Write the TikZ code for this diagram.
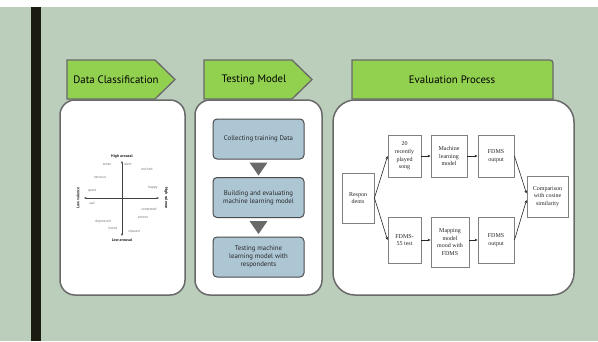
\documentclass[tikz,border=0pt]{standalone}
\usepackage{fontspec}
\setmainfont{PT Sans}
\newfontfamily\flowfont{Liberation Serif}
\usetikzlibrary{arrows.meta}
\definecolor{sage}{RGB}{187,206,187}
\definecolor{tabgreen}{RGB}{146,208,80}
\definecolor{edgegray}{RGB}{105,105,105}
\definecolor{stageblue}{RGB}{173,198,212}
\definecolor{bardark}{RGB}{27,27,18}
\tikzset{
  tabbox/.style={draw=edgegray, line width=1.3pt, fill=tabgreen},
  tablbl/.style={font=\fontsize{10.8}{12}\selectfont, text=black},
  panel/.style={draw=edgegray, line width=1.5pt, fill=white, rounded corners=15pt},
  stagebox/.style={draw=black!70, line width=1pt, fill=stageblue, rounded corners=4pt,
    minimum width=91pt, minimum height=40pt, align=center, inner sep=1pt,
    font=\fontsize{6.8}{8.2}\selectfont, text=black!85},
  flowbox/.style={draw=black!50, line width=0.9pt, fill=white, align=center, inner sep=1pt,
    font=\flowfont\fontsize{6}{7.6}\selectfont, text=black!85},
  flowarrow/.style={-{Stealth[length=3pt,width=2.6pt]}, line width=0.6pt, black!85},
  axisarrow/.style={{Stealth[length=2.5pt,width=2pt]}-{Stealth[length=2.5pt,width=2pt]}, line width=0.5pt, black!75},
  emo/.style={font=\fontsize{3.6}{4}\selectfont, text=black!55, inner sep=0pt},
  axislbl/.style={font=\bfseries\fontsize{4}{4.5}\selectfont, text=black!85, inner sep=0pt},
}
\begin{document}
\begin{tikzpicture}[x=1pt, y=-1pt]
    % Background
    \fill[white] (0,0) rectangle (598,341);
    \fill[sage] (0,7) rectangle (598,341);
    \fill[bardark] (31,7) rectangle (41,341);
    \useasboundingbox (0,0) rectangle (598,341);

    % Panels
    \draw[panel] (60,100) rectangle (185,295);
    \draw[panel] (195,100) rectangle (322,295);
    \draw[panel, rounded corners=22pt] (333,100) rectangle (574,295);

    % Tabs
    \draw[tabbox] (67,60) -- (155,60) -- (175,79.5) -- (155,99) -- (67,99) -- cycle;
    \node[tablbl] (tabdata) at (116,80) {Data Classification};
    \draw[tabbox] (204,60) -- (292,60) -- (312,79.5) -- (292,99) -- (204,99) -- cycle;
    \node[tablbl] (tabtest) at (254,80) {Testing Model};
    \draw[tabbox] (352,99) -- (352,60) -- (546,60) .. controls (553,60) .. (553,67) -- (553,99) -- cycle;
    \node[tablbl] (tabeval) at (452,80) {Evaluation Process};

    % Valence / arousal chart
    \coordinate (qtop) at (122,161);
    \coordinate (qbot) at (122,236);
    \coordinate (qleft) at (84,198);
    \coordinate (qright) at (159,198);
    \draw[axisarrow] (qbot) -- (qtop);
    \draw[axisarrow] (qleft) -- (qright);
    \node[axislbl] (hiarousal) at (122,156) {High arousal};
    \node[axislbl] (loarousal) at (122,240.5) {Low arousal};
    \node[axislbl, rotate=90] (lovalence) at (78,198) {Low valence};
    \node[axislbl, rotate=-90] (hivalence) at (166,198) {High valence};
    \foreach \ex/\ey/\word in {107/164/tense, 128/164/alert, 147/169/excited,
        100/178/nervous, 92/191/upset, 153/188/happy, 92/203/sad,
        149/209/contented, 143/218/serene, 103/222/depressed,
        113/228/bored, 134/231/relaxed} {
        \node[emo] (emo-\word) at (\ex,\ey) {\word};
    }

    % Testing stages
    \node[stagebox] (collect) at (258.5,139) {Collecting training Data};
    \node[stagebox] (build) at (258.5,197.5) {Building and evaluating\\machine learning model};
    \node[stagebox] (testing) at (258.5,257) {Testing machine\\learning model with\\respondents};
    \foreach \upper in {collect, build} {
        \fill[edgegray] ([yshift=-3pt]\upper.south) ++(-9pt,0) -- ++(18pt,0) -- ++(-9pt,-13pt) -- cycle;
    }

    % Evaluation flow
    \node[flowbox, minimum width=32pt, minimum height=50pt] (resp) at (358,198) {Respon\\dents};
    \node[flowbox, minimum width=33pt, minimum height=42pt] (song) at (404.5,156) {20\\recently\\played\\song};
    \node[flowbox, minimum width=36pt, minimum height=42pt] (mlm) at (449,156) {Machine\\learning\\model};
    \node[flowbox, minimum width=36pt, minimum height=42pt] (outtop) at (496,156) {FDMS\\output};
    \node[flowbox, minimum width=33pt, minimum height=46pt] (fdmstest) at (404.5,240) {FDMS-\\55 test};
    \node[flowbox, minimum width=38pt, minimum height=50pt] (mapping) at (450,242) {Mapping\\model\\mood with\\FDMS};
    \node[flowbox, minimum width=36pt, minimum height=46pt] (outbot) at (496,240) {FDMS\\output};
    \node[flowbox, minimum width=41pt, minimum height=41pt] (compare) at (547.5,196.5) {Comparison\\with cosine\\similarity};

    \draw[flowarrow] (resp.east) -- (song.west);
    \draw[flowarrow] (resp.east) -- (fdmstest.west);
    \draw[flowarrow] (song.east) -- (mlm.west);
    \draw[flowarrow] (mlm.east) -- (outtop.west);
    \draw[flowarrow] (fdmstest.east) -- (mapping.west |- fdmstest.east);
    \draw[flowarrow] (mapping.east |- outbot.west) -- (outbot.west);
    \draw[flowarrow] (outtop.east) -- ([yshift=3pt]compare.west);
    \draw[flowarrow] (outbot.east) -- ([yshift=-3.5pt]compare.west);
\end{tikzpicture}
\end{document}
